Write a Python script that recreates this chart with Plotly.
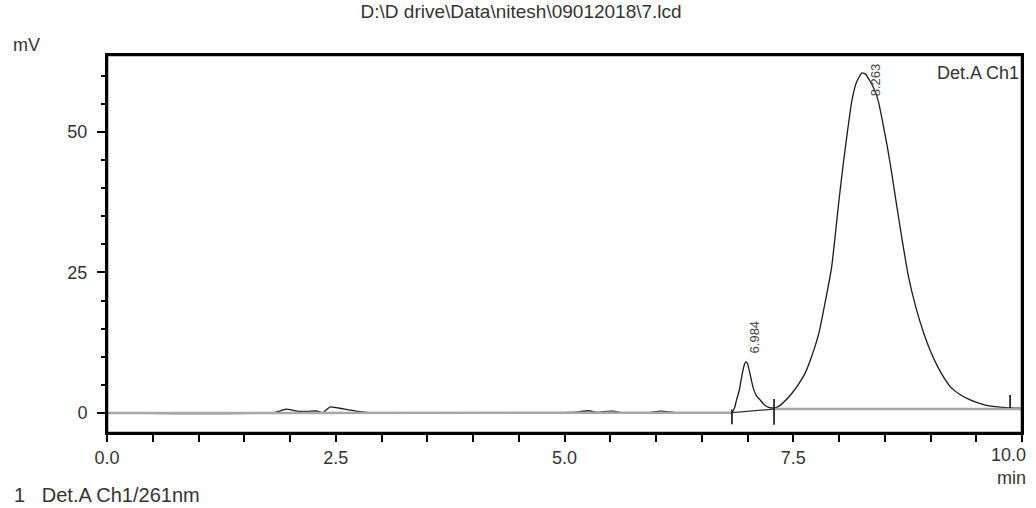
import plotly.graph_objects as go

# ---- data ----
time_min = [0.0, 1.80, 1.90, 1.96, 2.03, 2.09, 2.20, 2.30, 2.36, 2.40, 2.44, 2.52, 2.60, 2.74, 2.92,
            4.90, 5.05, 5.15, 5.26, 5.36, 5.47, 5.55, 5.62, 5.90, 6.05, 6.15, 6.23, 6.60, 6.75,
            6.83, 6.86, 6.88, 6.91, 6.94, 6.97, 6.985, 7.00, 7.03, 7.06, 7.10, 7.14, 7.18, 7.23,
            7.29, 7.33, 7.36, 7.42, 7.49, 7.56, 7.63, 7.70, 7.78, 7.85, 7.92, 7.96, 8.00, 8.05,
            8.10, 8.14, 8.19, 8.25, 8.29, 8.33, 8.38, 8.43, 8.48, 8.53, 8.58, 8.62, 8.69, 8.76,
            8.84, 8.93, 9.00, 9.08, 9.15, 9.22, 9.33, 9.44, 9.58, 9.73, 9.87, 10.0]
signal_mv = [0.0, 0.0, 0.4, 0.7, 0.5, 0.3, 0.3, 0.35, 0.05, 0.6, 1.1, 0.9, 0.7, 0.3, 0.0,
             0.0, 0.1, 0.2, 0.4, 0.1, 0.3, 0.3, 0.05, 0.0, 0.35, 0.2, 0.0, 0.0, 0.0,
             0.1, 1.0, 2.3, 4.0, 6.8, 8.8, 9.1, 8.8, 6.8, 4.6, 3.0, 2.3, 1.5, 1.0,
             0.9, 1.1, 1.4, 2.3, 3.6, 5.2, 7.1, 10.0, 14.2, 19.8, 26.0, 31.8, 37.9, 44.8,
             51.0, 55.5, 58.8, 60.5, 60.3, 59.3, 57.8, 55.5, 51.5, 47.2, 42.3, 38.0, 30.8, 24.2,
             18.8, 14.0, 11.0, 8.2, 6.2, 4.6, 3.2, 2.3, 1.5, 1.07, 0.9, 0.85]

baseline_t = [0.0, 6.83, 7.29, 10.0]
baseline_mv = [0.0, 0.05, 0.7, 0.7]

peak_times = ["6.984", "8.263"]
peak_label_x = [7.08, 8.40]
peak_label_y = [10.3, 56.0]

marker_t = [6.83, 7.29, 9.87]
marker_lo = [-2.0, -2.1, 0.9]
marker_hi = [0.6, 2.5, 3.2]

x_ticks = [0.0, 2.5, 5.0, 7.5, 10.0]
x_tick_text = ["0.0", "2.5", "5.0", "7.5", ""]
last_tick_label = "10.0"
y_ticks = [0, 25, 50]

FONT = "Liberation Sans, Arial, sans-serif"
TXT = "#333333"

fig = go.Figure()

fig.add_trace(go.Scatter(x=time_min, y=signal_mv, mode="lines",
                         line=dict(color="#1a1a1a", width=1.3, shape="spline", smoothing=0.4),
                         hoverinfo="skip", showlegend=False))
# gray baseline (low segment), black integration line between peak 1 markers
fig.add_trace(go.Scatter(x=baseline_t[:2], y=baseline_mv[:2], mode="lines",
                         line=dict(color="#a8a8a8", width=2.5), showlegend=False))
fig.add_trace(go.Scatter(x=baseline_t[1:3], y=baseline_mv[1:3], mode="lines",
                         line=dict(color="#333333", width=1.2), showlegend=False))
fig.add_trace(go.Scatter(x=baseline_t[2:], y=baseline_mv[2:], mode="lines",
                         line=dict(color="#a8a8a8", width=2.5), showlegend=False))

# peak start/end markers
mx, my = [], []
for t, lo, hi in zip(marker_t, marker_lo, marker_hi):
    mx += [t, t, None]
    my += [lo, hi, None]
fig.add_trace(go.Scatter(x=mx, y=my, mode="lines",
                         line=dict(color="#111111", width=1.6), showlegend=False))

for lbl, lx, ly in zip(peak_times, peak_label_x, peak_label_y):
    fig.add_annotation(x=lx, y=ly, text=lbl, showarrow=False, textangle=-90,
                       xanchor="center", yanchor="bottom",
                       font=dict(family=FONT, size=13, color="#444444"))

# plot frame
fig.add_shape(type="rect", xref="paper", yref="paper", x0=0, y0=0, x1=1, y1=1,
              line=dict(color="black", width=2.5), layer="above")

fig.add_annotation(xref="paper", yref="paper", x=0.999, y=0.985, text="Det.A Ch1",
                   showarrow=False, xanchor="right", yanchor="top",
                   font=dict(family=FONT, size=18, color=TXT))
fig.add_annotation(xref="paper", yref="paper", x=1.0, y=0, xshift=6, yshift=-10,
                   text=last_tick_label + "<br>min", align="right",
                   showarrow=False, xanchor="right", yanchor="top",
                   font=dict(family=FONT, size=18, color=TXT))
fig.add_annotation(xref="paper", yref="paper", x=0, y=1, xshift=-96, yshift=10, text="mV",
                   showarrow=False, xanchor="left", yanchor="middle",
                   font=dict(family=FONT, size=18, color=TXT))
fig.add_annotation(xref="paper", yref="paper", x=0, y=0, xshift=-95, yshift=-75,
                   text="1&nbsp;&nbsp;&nbsp;Det.A Ch1/261nm",
                   showarrow=False, xanchor="left", yanchor="bottom",
                   font=dict(family=FONT, size=20, color=TXT))

fig.update_layout(
    width=1036, height=508,
    margin=dict(l=107, r=12, t=55, b=75),
    paper_bgcolor="white", plot_bgcolor="white",
    title=dict(text="D:\\D drive\\Data\\nitesh\\09012018\\7.lcd", x=0.503, xanchor="center",
               y=0.99, yanchor="top",
               font=dict(family=FONT, size=19, color=TXT)),
    xaxis=dict(range=[0, 10], tickvals=x_ticks, ticktext=x_tick_text,
               ticks="outside", ticklen=7, tickwidth=1.5, tickcolor="black",
               minor=dict(dtick=0.5, ticks="outside", ticklen=7, tickwidth=1.5, tickcolor="black"),
               showgrid=False, zeroline=False, showline=True, linecolor="black",
               linewidth=2, mirror=True, ticklabelstandoff=0,
               tickfont=dict(family=FONT, size=18, color=TXT)),
    yaxis=dict(range=[-3.56, 63.7], tickvals=y_ticks,
               ticks="outside", ticklen=8, tickwidth=1.5, tickcolor="black",
               minor=dict(dtick=5, ticks="outside", ticklen=4, tickwidth=1.5, tickcolor="black"),
               showgrid=False, zeroline=False, showline=True, linecolor="black",
               linewidth=2, mirror=True, ticklabelstandoff=6,
               tickfont=dict(family=FONT, size=18, color=TXT)),
)

fig.write_html("out.html", config={"displayModeBar": False},
               post_script="document.body.style.margin='0';")
